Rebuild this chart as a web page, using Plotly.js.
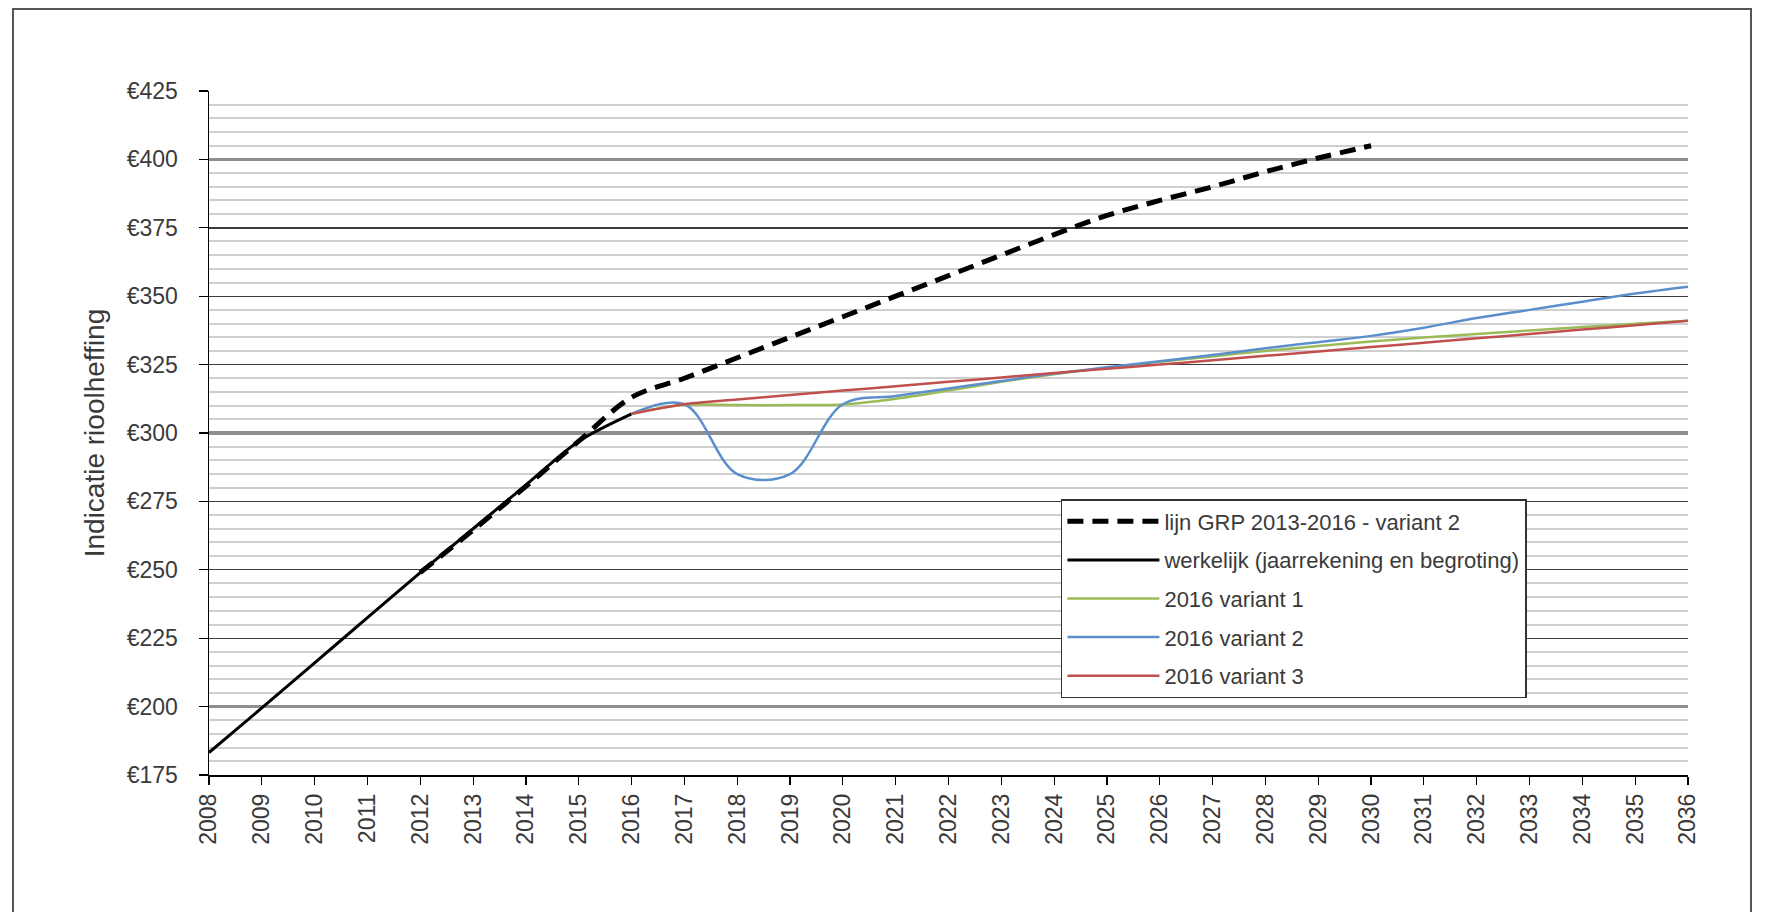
<!DOCTYPE html>
<html>
<head>
<meta charset="utf-8">
<script src="https://cdn.plot.ly/plotly-3.0.1.min.js"></script>
<style>
  html, body { margin: 0; padding: 0; background: #fff; overflow: hidden; }
  #chart { position: absolute; left: 0; top: 0; width: 1765px; height: 912px; }
  #frame { position: absolute; left: 12px; top: 8px; width: 1740px; height: 960px;
           border: 2px solid #555; pointer-events: none; box-sizing: border-box; }
</style>
</head>
<body>
<div id="chart"></div>
<div id="frame"></div>
<script>
// ---- data ----
const yearsActual = [2008, 2009, 2010, 2011, 2012, 2013, 2014, 2015, 2016];
const valuesActual = [183.2, 199.5, 216, 232.5, 249, 265, 281, 297, 307];

const yearsGRP = [2012, 2013, 2014, 2015, 2016, 2017, 2018, 2019, 2020, 2021,
                  2022, 2023, 2024, 2025, 2026, 2027, 2028, 2029, 2030];
const valuesGRP = [249, 264.5, 280.5, 297, 313, 320, 327.5, 335, 342.5, 350,
                   357.5, 365, 372.5, 379.5, 385, 390, 395.5, 400.5, 405];

const yearsVariant = [2016, 2017, 2018, 2019, 2020, 2021, 2022, 2023, 2024, 2025, 2026,
                      2027, 2028, 2029, 2030, 2031, 2032, 2033, 2034, 2035, 2036];
const valuesVariant1 = [307, 310.3, 310.2, 310.2, 310.4, 312.5, 315.5, 318.7, 321.5, 323.8, 326,
                        328, 330, 331.8, 333.4, 334.9, 336.2, 337.5, 338.7, 339.9, 341];
const valuesVariant2 = [307, 310.5, 285, 285, 310.5, 313.5, 316.3, 319, 321.7, 324, 326.2,
                        328.5, 331, 333.2, 335.5, 338.5, 342, 345, 348, 351, 353.5];
const valuesVariant3 = [307, 310.5, 312.2, 313.9, 315.5, 317.1, 318.7, 320.3, 321.9, 323.5, 325,
                        326.6, 328.2, 329.8, 331.4, 333, 334.6, 336.2, 337.8, 339.4, 341];

const seriesNames = ['lijn GRP 2013-2016 - variant 2',
                     'werkelijk (jaarrekening en begroting)',
                     '2016 variant 1', '2016 variant 2', '2016 variant 3'];
const yAxisTitle = 'Indicatie rioolheffing';

// ---- chart ----
const FONT = '"Liberation Sans", Arial, sans-serif';
const TXT = '#3a3a3a';

const traces = [
  { x: yearsGRP, y: valuesGRP, name: seriesNames[0], mode: 'lines', legendgroup: 'a',
    line: { color: '#000', width: 5, dash: '16px,9px', shape: 'spline', smoothing: 1 } },
  { x: yearsActual, y: valuesActual, name: seriesNames[1], mode: 'lines', legendgroup: 'b',
    line: { color: '#000', width: 3, shape: 'spline', smoothing: 0.8 } },
  { x: yearsVariant, y: valuesVariant1, name: seriesNames[2], mode: 'lines', legendgroup: 'c',
    line: { color: '#9BBB59', width: 2.5, shape: 'spline', smoothing: 0.8 } },
  { x: yearsVariant, y: valuesVariant2, name: seriesNames[3], mode: 'lines', legendgroup: 'd',
    line: { color: '#5B8FCC', width: 2.5, shape: 'spline', smoothing: 1 } },
  { x: yearsVariant, y: valuesVariant3, name: seriesNames[4], mode: 'lines', legendgroup: 'e',
    line: { color: '#C0504D', width: 2.5, shape: 'spline', smoothing: 0.8 } },
  { x: [2008], y: [175], yaxis: 'y2', mode: 'lines', showlegend: false, hoverinfo: 'skip',
    line: { color: 'rgba(0,0,0,0)' } }
];

const layout = {
  width: 1765, height: 912,
  margin: { l: 209, r: 77, t: 91, b: 137 },
  paper_bgcolor: 'rgba(0,0,0,0)',
  plot_bgcolor: '#fff',
  font: { family: FONT, color: TXT, size: 20 },
  showlegend: true,
  legend: {
    x: 0.576, y: 0.4035, xanchor: 'left', yanchor: 'top',
    bgcolor: '#fff', bordercolor: '#333', borderwidth: 1.5,
    font: { family: FONT, size: 22, color: TXT },
    tracegroupgap: 7, itemwidth: 92, entrywidth: 470, entrywidthmode: 'pixels',
    traceorder: 'grouped'
  },
  xaxis: {
    range: [2008, 2036], tick0: 2008, dtick: 1, tickangle: -90,
    ticks: 'outside', ticklen: 8, tickwidth: 1.2, tickcolor: '#000',
    showline: true, linecolor: '#000', linewidth: 1.5,
    showgrid: false, zeroline: false,
    tickfont: { family: FONT, size: 23, color: TXT }
  },
  yaxis: {
    range: [175, 425], tick0: 175, dtick: 25, tickprefix: '€',
    ticks: 'outside', ticklen: 9, tickwidth: 1.2, tickcolor: '#000',
    ticklabelstandoff: 16,
    showline: true, linecolor: '#000', linewidth: 1.5,
    showgrid: true, gridcolor: '#3c3c3c', gridwidth: 1.4, zeroline: false,
    minor: { dtick: 5, tick0: 175, showgrid: true, gridcolor: '#cfcfcf', gridwidth: 2, ticks: '' },
    tickfont: { family: FONT, size: 23, color: TXT },
    title: { text: yAxisTitle, standoff: 14, font: { family: FONT, size: 28, color: TXT } }
  },
  yaxis2: {
    overlaying: 'y', range: [175, 425], tick0: 0, dtick: 100,
    showticklabels: false, ticks: '', showline: false, zeroline: false,
    showgrid: true, gridcolor: '#8f8f8f', gridwidth: 3.5
  }
};

Plotly.newPlot('chart', traces, layout, { staticPlot: true, displayModeBar: false });
</script>
</body>
</html>
